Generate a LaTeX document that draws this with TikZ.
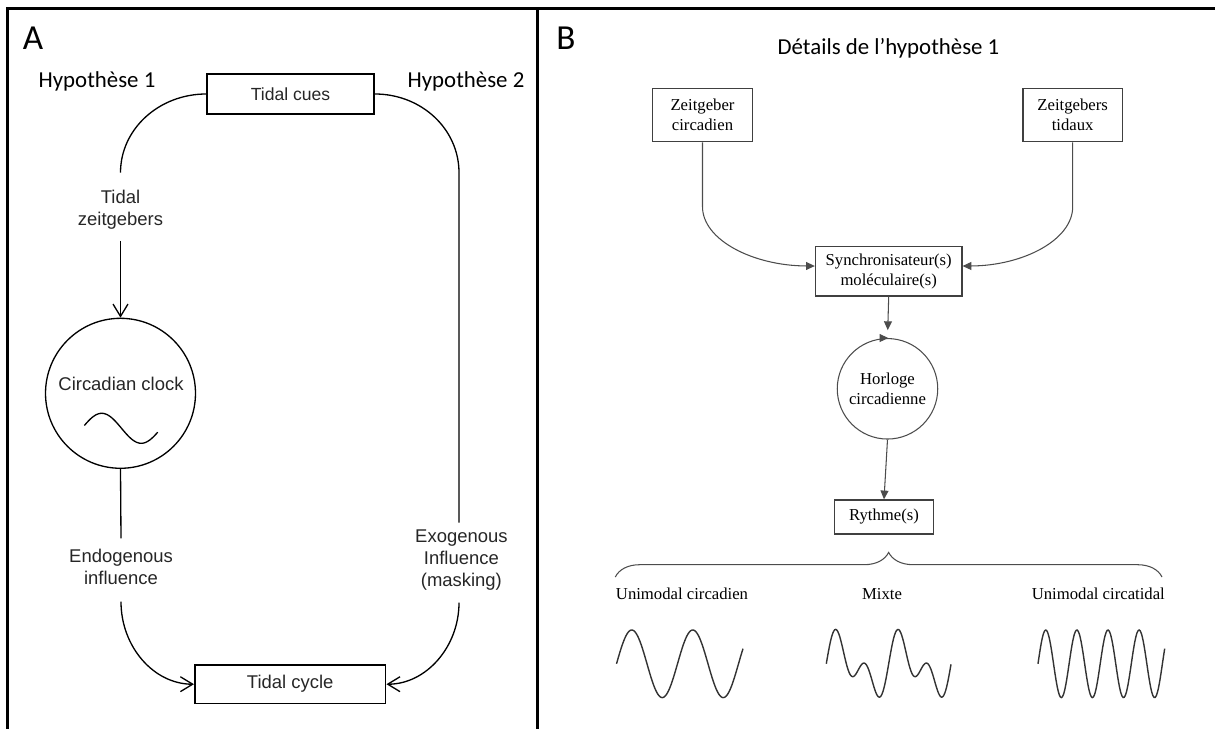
\documentclass[tikz,border=0pt]{standalone}
\usepackage{fontspec}
\setmainfont{Liberation Serif}
\newfontfamily\calibri{Carlito}
\newfontfamily\arial{Liberation Sans}
\usetikzlibrary{arrows.meta,decorations.pathreplacing}

\begin{document}
\begin{tikzpicture}[x=0.02cm, y=-0.02cm,
    lineA/.style={line width=0.75pt},
    arrA/.style={lineA, -{Straight Barb[length=7pt,width=8.5pt]}},
    txtA/.style={font=\arial\fontsize{10.5}{12.5}\selectfont, align=center, text=black!85},
    boxA/.style={draw, line width=0.9pt, inner sep=0pt, txtA},
    lineB/.style={draw=black!70, line width=0.6pt},
    arrB/.style={lineB, -{Triangle[length=5pt,width=4.5pt]}},
    txtB/.style={font=\fontsize{9.5}{11.5}\selectfont, align=center, text=black},
    boxB/.style={draw=black!75, line width=0.7pt, inner sep=0pt, txtB},
    hyp/.style={font=\calibri\fontsize{13}{15}\selectfont},
    panel/.style={font=\calibri\fontsize{20}{24}\selectfont},
    wave/.style={draw=black!80, line width=0.8pt, smooth, samples=120}
  ]
	\useasboundingbox (0,0) rectangle (1215,729);
	% frame
	\draw[line width=1.7pt] (7.5,729) -- (7.5,8.5) -- (1215,8.5);
	\draw[line width=1.7pt] (537.5,8.5) -- (537.5,729);

	% panel A
	\node[panel] (labA) at (33,38) {A};
	\node[hyp, anchor=base] (hyp1) at (97,87.5) {Hypothèse 1};
	\node[hyp, anchor=base] (hyp2) at (466,87.5) {Hypothèse 2};
	\node[boxA, minimum width=3.34cm, minimum height=0.8cm, font=\arial\fontsize{10}{12}\selectfont] (cues) at (290.5,94) {Tidal cues};
	\node[txtA] (zeit) at (120.5,210) {Tidal\\zeitgebers};
	\node[circle, draw, lineA, minimum size=3cm, inner sep=0pt] (clock) at (120.5,393.3) {};
	\node[txtA, anchor=base] (clocktxt) at (121,391) {Circadian clock};
	\draw[lineA, domain=84.4:157.7, samples=60, smooth] plot (\x, {428.3 - 15*sin((\x-82)/79*360)});
	\node[txtA] (endo) at (121,567) {Endogenous\\influence};
	\node[txtA] (exo) at (461.4,560.5) {Exogenous\\Influence\\(masking)};
	\node[boxA, minimum width=3.82cm, minimum height=0.77cm] (cycle) at (290.2,684.2) {Tidal cycle};

	\coordinate (zeitIn) at (120.5,172.7);
	\coordinate (zeitOut) at (120.5,241);
	\coordinate (endoIn) at (121,538.3);
	\coordinate (endoOut) at (121,601.7);
	\coordinate (exoIn) at (459,522.7);
	\coordinate (exoOut) at (459,602.7);

	\draw[lineA] (cues.west) .. controls (159,94) and (120.5,129) .. (zeitIn);
	\draw[arrA] (zeitOut) -- (clock.north);
	\draw[lineA] (clock.south) -- (endoIn);
	\draw[arrA] (endoOut) .. controls (121,647) and (154,684.2) .. (cycle.west);
	\draw[lineA] (cues.east) .. controls (421.5,94) and (459,129) .. (459,172.7) -- (exoIn);
	\draw[arrA] (exoOut) .. controls (459,647) and (426,684.2) .. (cycle.east);

	% panel B
	\node[panel] (labB) at (566,38) {B};
	\node[hyp, anchor=base] (title) at (888.5,55) {Détails de l’hypothèse 1};
	\node[boxB, minimum width=1.99cm, minimum height=1.07cm] (zcirc) at (702.5,115) {Zeitgeber\\circadien};
	\node[boxB, minimum width=1.99cm, minimum height=1.07cm] (ztid) at (1072.7,115) {Zeitgebers\\tidaux};
	\node[boxB, minimum width=2.93cm, minimum height=0.99cm] (sync) at (888.7,271.3) {Synchronisateur(s)\\moléculaire(s)};
	\node[circle, lineB, minimum size=2.01cm, inner sep=0pt, txtB] (horl) at (887.5,388.8) {Horloge\\circadienne};
	\node[boxB, minimum width=1.98cm, minimum height=0.68cm] (ryth) at (884,517) {Rythme(s)};

	\draw[arrB] (zcirc.south) -- (702.5,206.7) .. controls (702.5,240) and (753,265.7) .. ([yshift=3pt]sync.west);
	\draw[arrB] (ztid.south) -- (1072.7,206.7) .. controls (1072.7,240) and (1023,265.7) .. ([yshift=3pt]sync.east);
	\draw[arrB, shorten >=4.5pt] (sync.south) -- (horl.north);
	\draw[arrB] ([xshift=-4pt]horl.north) -- ([xshift=0.5pt]horl.north);
	\draw[arrB] (horl.south) -- (ryth.north);

	\draw[lineB, decorate, decoration={brace, amplitude=14pt}] (615.3,577) -- (1162,577);
	\node[txtB] (lcirc) at (682,594) {Unimodal circadien};
	\node[txtB] (lmix) at (882,594) {Mixte};
	\node[txtB] (ltid) at (1098.3,594) {Unimodal circatidal};

	\draw[wave, domain=616.5:743] plot (\x, {663.8 - 33.8*sin((\x-616.5)/61*360)});
	\draw[wave, domain=826.3:951] plot (\x, {666 - 20*cos((\x-840)/62.4*360) - 19*cos((\x-834.5)/62.4*720)});
	\draw[wave, domain=1038:1164.7] plot (\x, {663.8 - 33.8*sin((\x-1038)/31.1*360)});
\end{tikzpicture}
\end{document}
